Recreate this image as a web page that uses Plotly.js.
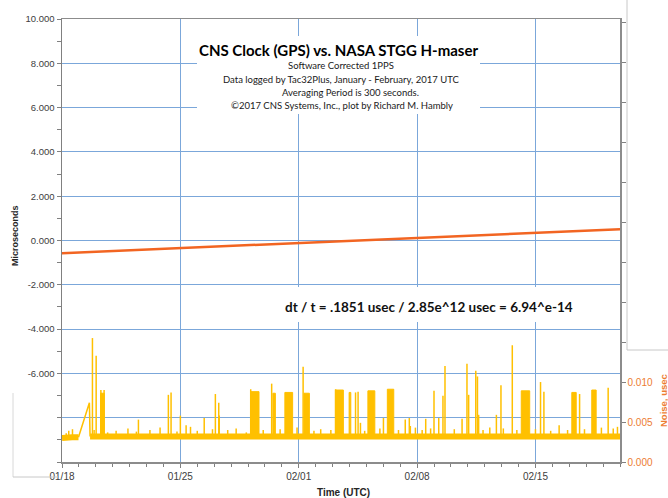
<!DOCTYPE html>
<html>
<head>
<meta charset="utf-8">
<script src="https://cdn.plot.ly/plotly-3.0.1.min.js"></script>
<style>html,body{margin:0;padding:0;background:#fff;}#chart{width:668px;height:498px;}</style>
</head>
<body>
<div id="chart"></div>
<script>
// Days are counted from 2017-01-18 00:00 UTC
const xTickDays = [0, 7, 14, 21, 28];
const xTickLabels = ['01/18', '01/25', '02/01', '02/08', '02/15'];
const yTickVals = [-10, -8, -6, -4, -2, 0, 2, 4, 6, 8, 10];
const yTickLabels = ['', '', '-6.000', '-4.000', '-2.000', '0.000', '2.000', '4.000', '6.000', '8.000', '10.000'];
const y2TickVals = [0, 0.005, 0.010, 0.015, 0.020, 0.025, 0.030, 0.035, 0.040, 0.045, 0.050, 0.055];
const y2TickLabels = ['0.000', '0.005', '0.010', '', '', '', '', '', '', '', '', ''];

// Clock offset (microseconds)
const driftDay  = [0, 3, 6, 9, 12, 15, 18, 21, 24, 27, 30, 33];
const driftUsec = [-0.57, -0.47, -0.38, -0.28, -0.18, -0.08, 0.02, 0.12, 0.22, 0.31, 0.41, 0.51];

// Noise baseline (usec)
const baseDay1  = [0, 0.3, 0.6, 0.975];
const baseUsec1 = [0.0030, 0.0031, 0.0031, 0.0031];
const gapDay    = [0.975, 1.62, 1.66];
const gapUsec   = [0.0031, 0.0074, 0.0032];
const baseDay2  = [1.66, 5, 10, 15, 20, 25, 30, 33];
const baseUsec2 = [0.0032, 0.0032, 0.0032, 0.0032, 0.0032, 0.0031, 0.0032, 0.0032];

// Isolated noise spikes
const spikeDay  = [1.80, 2.02, 2.30, 2.49, 4.52, 6.29, 6.45, 7.00, 7.34, 8.41, 9.07, 9.27, 9.30, 11.16, 12.40, 14.26, 16.18, 17.36, 17.51, 17.65, 19.01, 20.30, 20.54, 20.60, 21.51, 22.00, 22.28, 22.53, 22.65, 23.66, 23.95, 24.05, 24.47, 24.57, 24.64, 25.69, 25.96, 26.63, 28.30, 28.50, 30.61, 32.30];
const spikeUsec = [0.0155, 0.0133, 0.0090, 0.0090, 0.0053, 0.0084, 0.0087, 0.0058, 0.0046, 0.0055, 0.0085, 0.0074, 0.0058, 0.0091, 0.0098, 0.0119, 0.0091, 0.0087, 0.0088, 0.0049, 0.0055, 0.0053, 0.0055, 0.0045, 0.0054, 0.0089, 0.0055, 0.0083, 0.0120, 0.0054, 0.0123, 0.0084, 0.0114, 0.0107, 0.0059, 0.0059, 0.0096, 0.0146, 0.0100, 0.0088, 0.0085, 0.0093];

// Small noise bumps
const smallDay  = [0.25, 0.40, 0.62, 1.90, 2.70, 3.20, 3.90, 4.40, 5.20, 5.80, 6.80, 7.60, 8.00, 8.90, 9.80, 10.30, 10.90, 11.90, 12.90, 13.90, 14.90, 15.30, 15.90, 17.90, 18.80, 19.90, 20.90, 21.30, 21.80, 23.20, 24.90, 25.30, 26.10, 26.90, 28.00, 28.90, 29.40, 29.90, 30.90, 31.90, 32.60, 32.85];
const smallUsec = [0.0036, 0.0039, 0.0041, 0.0040, 0.0037, 0.0039, 0.0042, 0.0038, 0.0040, 0.0043, 0.0038, 0.0044, 0.0039, 0.0041, 0.0040, 0.0042, 0.0037, 0.0040, 0.0041, 0.0043, 0.0039, 0.0041, 0.0040, 0.0039, 0.0042, 0.0040, 0.0043, 0.0040, 0.0042, 0.0041, 0.0040, 0.0043, 0.0042, 0.0040, 0.0041, 0.0039, 0.0046, 0.0040, 0.0041, 0.0043, 0.0042, 0.0044];

// Dense bursts of noise
const burstStart = [2.28, 11.15, 12.47, 13.18, 14.31, 16.17, 16.98, 18.09, 19.24, 27.16, 30.15, 31.33];
const burstEnd   = [2.50, 11.65, 12.62, 13.64, 14.63, 16.64, 17.08, 18.50, 19.62, 27.66, 30.41, 31.59];
const burstTop   = [0.0086, 0.0088, 0.0086, 0.0087, 0.0086, 0.0090, 0.0087, 0.0089, 0.0091, 0.0089, 0.0087, 0.0090];

const T0 = Date.UTC(2017, 0, 18);
const toT = d => T0 + d * 86400000;
const GOLD = '#FFC000';
const ORANGE = '#F26522';
const BASE = 0.0031;

function spikeSeries(days, vals) {
  const x = [], y = [];
  days.forEach((d, i) => { x.push(toT(d), toT(d), null); y.push(BASE, vals[i], null); });
  return {x, y};
}
function burstSeries() {
  const x = [], y = [];
  burstStart.forEach((s, i) => {
    x.push(toT(s), toT(s), toT(burstEnd[i]), toT(burstEnd[i]), toT(s), null);
    y.push(BASE, burstTop[i], burstTop[i], BASE, BASE, null);
  });
  return {x, y};
}
const sp = spikeSeries(spikeDay, spikeUsec);
const sm = spikeSeries(smallDay, smallUsec);
const bu = burstSeries();

const traces = [
  {x: baseDay1.map(toT), y: baseUsec1, yaxis: 'y2', mode: 'lines', line: {color: GOLD, width: 6}, hoverinfo: 'skip'},
  {x: gapDay.map(toT), y: gapUsec, yaxis: 'y2', mode: 'lines', line: {color: GOLD, width: 1.5}, hoverinfo: 'skip'},
  {x: baseDay2.map(toT), y: baseUsec2, yaxis: 'y2', mode: 'lines', line: {color: GOLD, width: 6}, hoverinfo: 'skip'},
  {x: bu.x, y: bu.y, yaxis: 'y2', mode: 'lines', fill: 'toself', fillcolor: GOLD, line: {color: GOLD, width: 1}, hoverinfo: 'skip'},
  {x: sp.x, y: sp.y, yaxis: 'y2', mode: 'lines', line: {color: GOLD, width: 1.5}, connectgaps: false, hoverinfo: 'skip'},
  {x: sm.x, y: sm.y, yaxis: 'y2', mode: 'lines', line: {color: GOLD, width: 1.5}, connectgaps: false, hoverinfo: 'skip'},
  {x: driftDay.map(toT), y: driftUsec, yaxis: 'y', mode: 'lines', line: {color: ORANGE, width: 2.5}, hoverinfo: 'skip'}
];

// pixel helpers for annotations (plot area: x 62..620, y 19..462)
const PX = x => (x - 62) / 558;
const PY = y => (462 - y) / 443;
const TXT = '#1a1a1a';
const sub = (text, x, y) => ({text, x: PX(x), y: PY(y), xref: 'paper', yref: 'paper', showarrow: false, xanchor: 'center', yanchor: 'middle', font: {family: 'Lato, Liberation Sans, sans-serif', size: 9.5, color: TXT}});
const whiteBox = (x0, x1, y0, y1) => ({type: 'rect', xref: 'paper', yref: 'paper', x0: PX(x0), x1: PX(x1), y0: PY(y1), y1: PY(y0), fillcolor: '#ffffff', line: {width: 0}, layer: 'above'});

const layout = {
  width: 668, height: 498,
  margin: {l: 62, r: 48, t: 19, b: 36, pad: 0},
  paper_bgcolor: '#ffffff', plot_bgcolor: '#ffffff',
  showlegend: false,
  font: {family: 'Liberation Sans, Arial, sans-serif', size: 9.5, color: '#595959'},
  xaxis: {
    type: 'date', range: [toT(0), toT(33)],
    tickmode: 'array', tickvals: xTickDays.map(toT), ticktext: xTickLabels,
    ticks: 'outside', ticklen: 4, tickcolor: '#808080',
    showline: true, linecolor: '#8c8c8c', linewidth: 1.5, mirror: true,
    showgrid: true, gridcolor: '#7BA7DA', gridwidth: 1, zeroline: false,
    tickfont: {size: 10, color: '#404040'},
    minor: {tickmode: 'linear', tick0: toT(0), dtick: 86400000, ticks: 'outside', ticklen: 3, tickcolor: '#808080', showgrid: false}
  },
  yaxis: {
    range: [-10, 10], tickmode: 'array', tickvals: yTickVals, ticktext: yTickLabels,
    ticks: 'outside', ticklen: 4, tickcolor: '#808080',
    showline: true, linecolor: '#808080', linewidth: 1.5,
    showgrid: true, gridcolor: '#7BA7DA', gridwidth: 1, zeroline: false,
    tickfont: {size: 9.5, color: '#404040'},
    minor: {tickmode: 'linear', tick0: 0, dtick: 1, ticks: 'outside', ticklen: 4, tickcolor: '#808080', showgrid: false}
  },
  yaxis2: {
    overlaying: 'y', side: 'right', range: [0, 0.0554],
    tickmode: 'array', tickvals: y2TickVals, ticktext: y2TickLabels,
    ticks: 'outside', ticklen: 4, tickcolor: '#808080',
    showline: true, linecolor: '#8c8c8c', linewidth: 1.5,
    showgrid: false, zeroline: false,
    tickfont: {size: 10, color: '#ED7D31'}
  },
  shapes: [
    whiteBox(197, 480, 36, 114),
    whiteBox(279, 584, 287, 322),
    {type: 'line', xref: 'paper', yref: 'paper', x0: PX(627), x1: PX(627), y0: PY(0), y1: PY(350), line: {color: '#c8c8c8', width: 1}},
    {type: 'line', xref: 'paper', yref: 'paper', x0: PX(627), x1: PX(668), y0: PY(350), y1: PY(350), line: {color: '#c8c8c8', width: 1}},
    {type: 'line', xref: 'paper', yref: 'paper', x0: PX(13), x1: PX(13), y0: PY(393), y1: PY(477), line: {color: '#d8d8d8', width: 1}},
    {type: 'line', xref: 'paper', yref: 'paper', x0: PX(13), x1: PX(58), y0: PY(477), y1: PY(477), line: {color: '#c8c8c8', width: 1}}
  ],
  annotations: [
    {text: '<b>CNS Clock (GPS) vs. NASA STGG H-maser</b>', x: PX(338), y: PY(50), xref: 'paper', yref: 'paper', showarrow: false, xanchor: 'center', yanchor: 'middle', font: {family: 'Lato, Liberation Sans, sans-serif', size: 15, color: '#000'}},
    sub('Software Corrected 1PPS', 341, 66),
    sub('Data logged by Tac32Plus, January - February, 2017 UTC', 341, 80),
    sub('Averaging Period is 300 seconds.', 351, 93),
    sub('©2017 CNS Systems, Inc., plot by Richard M. Hambly', 342, 106),
    {text: '<b>dt / t = .1851 usec / 2.85e^12 usec = 6.94^e-14</b>', x: PX(429), y: PY(307), xref: 'paper', yref: 'paper', showarrow: false, xanchor: 'center', yanchor: 'middle', font: {family: 'Lato, Liberation Sans, sans-serif', size: 13.5, color: '#111'}},
    {text: '<b>Microseconds</b>', x: PX(15), y: PY(236), xref: 'paper', yref: 'paper', showarrow: false, textangle: -90, xanchor: 'center', yanchor: 'middle', font: {family: 'Liberation Sans, Arial, sans-serif', size: 9, color: '#262626'}},
    {text: '<b>Time (UTC)</b>', x: PX(343), y: PY(492), xref: 'paper', yref: 'paper', showarrow: false, xanchor: 'center', yanchor: 'middle', font: {family: 'Liberation Sans, Arial, sans-serif', size: 10, color: '#262626'}},
    {text: '<b>Noise, usec</b>', x: PX(663), y: PY(401), xref: 'paper', yref: 'paper', showarrow: false, textangle: -90, xanchor: 'center', yanchor: 'middle', font: {family: 'Liberation Sans, Arial, sans-serif', size: 9.5, color: '#ED7D31'}}
  ]
};

Plotly.newPlot('chart', traces, layout, {staticPlot: true, displayModeBar: false});
</script>
</body>
</html>
